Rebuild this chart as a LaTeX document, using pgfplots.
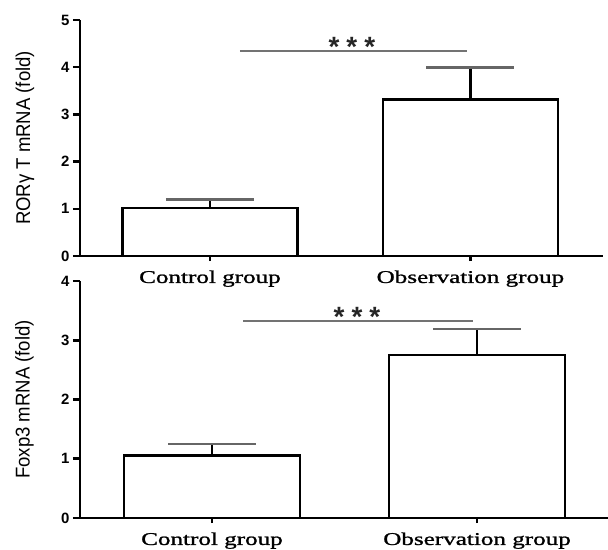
\documentclass[border=0pt]{standalone}
\usepackage{fontspec}
\usepackage{pgfplots}
\pgfplotsset{compat=1.18}
\newfontfamily\xlab{Liberation Serif}[FakeStretch=1.4, FakeBold=1.2]
\newfontfamily\arial{Liberation Sans}
\newfontfamily\ylab{Liberation Sans}[FakeStretch=0.93]
\pgfplotsset{
  common/.style={
    scale only axis,
    axis x line=bottom, axis y line=left,
    axis line style={-, line width=2.6bp, black},
    tick style={line width=2.6bp, black},
    tick align=outside,
    major tick length=7bp,
    xtick style={/pgfplots/major tick length=5bp},
    ymin=0,
    xtick={0,1},
    xticklabels={Control group, Observation group},
    x tick label style={font=\xlab\fontsize{18}{18}\selectfont, yshift=-4bp},
    y tick label style={font=\arial\bfseries\fontsize{15}{15}\selectfont},
    /pgf/number format/assume math mode=true,
    ylabel style={at={(axis description cs:-0.105,0.5)}, anchor=center, font=\ylab\fontsize{20}{20}\selectfont},
    ytick distance=1,
  },
  barstyle/.style={
    ybar, draw=black, fill=white, line width=2.6bp,
    error bars/.cd, y dir=plus, y explicit,
    error mark=|,
    error mark options={mark size=44bp, line width=2.8bp, black!60},
    error bar style={line width=2.6bp, black},
  },
}
\newcommand{\stars}{*\hspace{7bp}*\hspace{7bp}*}
\begin{document}
\begin{tikzpicture}
\useasboundingbox (-80bp,-294bp) rectangle (528bp,256bp);
% top panel
\begin{axis}[common,
  at={(0,0)}, anchor=south west,
  width=523bp, height=236bp,
  xmin=-0.499, xmax=1.509, ymax=5,
  bar width=175bp,
  ylabel={RORγ T mRNA (fold)},
]
\addplot[barstyle] coordinates {(0,1.02) +- (0,0.17) (1,3.31) +- (0,0.69)};
\draw[line width=1.6bp, black!55] (axis cs:0.115,4.34) -- (axis cs:0.987,4.34);
\node[font=\arial\bfseries\fontsize{28}{28}\selectfont, text=black!85] at (axis cs:0.545,4.43) {\stars};
\end{axis}
% bottom panel
\begin{axis}[common,
  at={(0,-262bp)}, anchor=south west,
  width=528bp, height=237bp,
  xmin=-0.498, xmax=1.494, ymax=4,
  bar width=176bp,
  ylabel={Foxp3 mRNA (fold)},
]
\addplot[barstyle] coordinates {(0,1.05) +- (0,0.20) (1,2.75) +- (0,0.44)};
\draw[line width=1.6bp, black!55] (axis cs:0.117,3.325) -- (axis cs:0.985,3.325);
\node[font=\arial\bfseries\fontsize{28}{28}\selectfont, text=black!85] at (axis cs:0.547,3.40) {\stars};
\end{axis}
\end{tikzpicture}
\end{document}
